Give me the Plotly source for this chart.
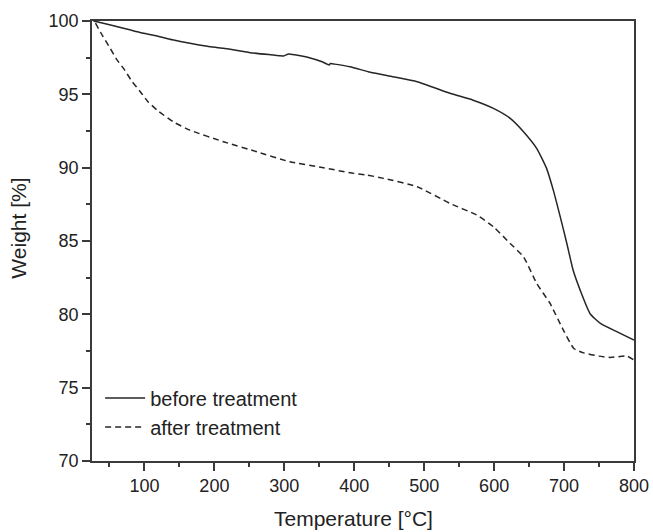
import plotly.graph_objects as go

# Temperature (°C) and weight (%)
before_T = [27, 35, 50, 70, 95, 118, 140, 165, 190, 213, 251, 280, 299, 306, 315, 332, 355, 364, 366, 372,
            394, 423, 455, 490, 537, 570, 599, 623, 642, 661, 675, 685, 694, 704, 713, 723, 737, 752, 776, 800]
before_W = [100.0, 99.92, 99.75, 99.5, 99.2, 98.98, 98.72, 98.48, 98.28, 98.14, 97.84, 97.7, 97.62, 97.75, 97.7,
            97.55, 97.2, 97.0, 97.1, 97.06, 96.88, 96.5, 96.2, 95.86, 95.07, 94.6, 94.04, 93.36, 92.45, 91.3,
            89.95, 88.4, 86.75, 84.83, 83.0, 81.65, 80.06, 79.38, 78.8, 78.25]

after_T = [30, 40, 51, 60, 70, 82, 94, 105, 118, 141, 165, 213, 261, 308, 356, 394, 418, 442, 490, 537,
           575, 599, 623, 642, 661, 680, 699, 714, 728, 750, 766, 790, 800]
after_W = [99.85, 99.0, 98.14, 97.4, 96.77, 95.9, 95.18, 94.5, 93.93, 93.13, 92.56, 91.77, 91.08, 90.4, 90.0,
           89.65, 89.5, 89.27, 88.7, 87.56, 86.77, 85.97, 84.83, 83.92, 82.1, 80.74, 78.92, 77.67, 77.37,
           77.15, 77.06, 77.15, 76.88]

x_ticks = [100, 200, 300, 400, 500, 600, 700, 800]
y_ticks = [70, 75, 80, 85, 90, 95, 100]

FONT = "Liberation Sans, Arial, sans-serif"
LINE = "#262626"
AXIS = "#3a3a3a"

fig = go.Figure()
fig.add_trace(go.Scatter(x=before_T, y=before_W, mode="lines", name="before treatment",
                         line=dict(color=LINE, width=1.5, shape="spline", smoothing=0.5)))
fig.add_trace(go.Scatter(x=after_T, y=after_W, mode="lines", name="after treatment",
                         line=dict(color=LINE, width=1.5, dash="6px,4px", shape="spline", smoothing=0.5)))

axis_common = dict(showgrid=False, zeroline=False, showline=True, linecolor=AXIS, linewidth=1.5,
                   mirror=True, ticks="outside", ticklen=8, tickwidth=1.5, tickcolor=AXIS,
                   automargin=False,
                   tickfont=dict(family=FONT, size=18, color="#222"))

fig.update_xaxes(range=[25, 800], tickvals=x_ticks, ticktext=[str(v) for v in x_ticks],
                 minor=dict(dtick=50, tick0=0, ticks="outside", ticklen=4, tickwidth=1.5, tickcolor=AXIS),
                 **axis_common)
fig.update_yaxes(range=[70, 100], tickvals=y_ticks, ticktext=[str(v) for v in y_ticks],
                 minor=dict(dtick=2.5, tick0=0, ticks="outside", ticklen=4, tickwidth=1.5, tickcolor=AXIS),
                 **axis_common)

fig.add_annotation(text="Temperature [°C]", xref="paper", yref="paper", x=0.482, y=-0.13,
                   xanchor="center", yanchor="middle", showarrow=False,
                   font=dict(family=FONT, size=21, color="#222"))
fig.add_annotation(text="Weight [%]", xref="paper", yref="paper", x=-0.135, y=0.53,
                   xanchor="center", yanchor="middle", textangle=-90, showarrow=False,
                   font=dict(family=FONT, size=21, color="#222"))

fig.update_layout(
    width=653, height=532,
    autosize=False,
    margin=dict(l=92, r=19, t=21, b=71),
    paper_bgcolor="white", plot_bgcolor="white",
    showlegend=True,
    legend=dict(x=0.015, y=0.11, xanchor="left", yanchor="middle",
                font=dict(family=FONT, size=20, color="#222"),
                bgcolor="rgba(0,0,0,0)", borderwidth=0, itemwidth=40,
                tracegroupgap=0),
)

fig.write_html("out.html",
               config={"responsive": False, "displayModeBar": False},
               post_script="document.body.style.margin='0';document.body.style.overflow='hidden';")
